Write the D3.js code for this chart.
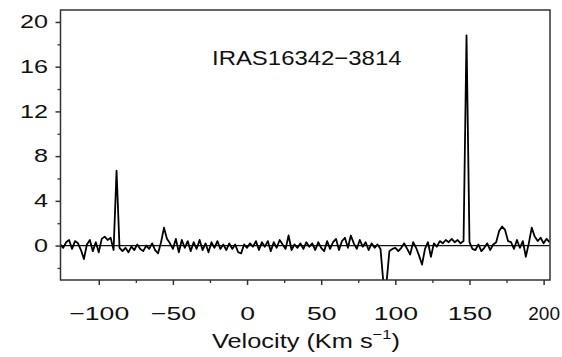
<!DOCTYPE html>
<html>
<head>
<meta charset="utf-8">
<script src="https://cdn.jsdelivr.net/npm/d3@7"></script>
<style>
  html, body { margin: 0; padding: 0; background: #fff; }
  svg { display: block; }
</style>
</head>
<body>
<svg id="chart" width="562" height="357"></svg>
<script>
// LSR velocity of each channel (km/s)
const velocity = [
  -126,-124,-122,-120,-118,-116,-114,-112,-110,-108,
  -106,-104,-102,-100, -98, -96, -94, -92, -90, -88,
   -86, -84, -82, -80, -78, -76, -74, -72, -70, -68,
   -66, -64, -62, -60, -58, -56, -54, -52, -50, -48,
   -46, -44, -42, -40, -38, -36, -34, -32, -30, -28,
   -26, -24, -22, -20, -18, -16, -14, -12, -10,  -8,
    -6,  -4,  -2,   0,   2,   4,   6,   8,  10,  12,
    14,  16,  18,  20,  22,  24,  26,  28,  30,  32,
    34,  36,  38,  40,  42,  44,  46,  48,  50,  52,
    54,  56,  58,  60,  62,  64,  66,  68,  70,  72,
    74,  76,  78,  80,  82,  84,  86,  88,  90,  92,
    94,  96,  98, 100, 102, 104, 106, 108, 110, 112,
   114, 116, 118, 120, 122, 124, 126, 128, 130, 132,
   134, 136, 138, 140, 142, 144, 146, 148, 150, 152,
   154, 156, 158, 160, 162, 164, 166, 168, 170, 172,
   174, 176, 178, 180, 182, 184, 186, 188, 190, 192,
   194, 196, 198, 200, 202, 204
];

// Flux density per channel (Jy)
const intensity = [
   0.1,-0.2, 0.3, 0.5,-0.3, 0.4, 0.2,-0.4,-1.2, 0.1,
   0.5,-0.5, 0.3,-0.6, 0.6, 0.8, 0.5, 0.7,-0.4, 6.7,
  -0.2,-0.5,-0.2,-0.6,-0.1,-0.4, 0.1,-0.3,-0.5, 0.0,
  -0.3, 0.2,-0.4,-0.7, 0.3, 1.6, 0.6, 0.2,-0.3, 0.6,
  -0.6, 0.5,-0.2, 0.4,-0.5, 0.3,-0.3, 0.5,-0.4, 0.2,
  -0.6, 0.3,-0.2, 0.4,-0.3, 0.1,-0.4, 0.2,-0.3, 0.1,
  -0.6,-0.7, 0.1,-0.2, 0.2,-0.1, 0.4,-0.4, 0.3,-0.1,
   0.4,-0.5, 0.3,-0.2, 0.5, 0.1,-0.3, 0.9,-0.4, 0.1,
  -0.2, 0.2,-0.3, 0.3,-0.1, 0.2,-0.4, 0.3,-0.2,-0.5,
   0.4,-0.3, 0.3, 0.6,-0.4, 0.4, 0.7,-0.2, 0.9, 0.2,
  -0.3, 0.5,-0.1, 0.3,-0.4, 0.2,-0.2, 0.1,-0.3,-3.4,
  -3.4,-0.5,-0.3,-0.2,-0.5,-0.2, 0.2,-0.3,-0.8, 0.3,
  -0.2,-0.9,-1.7,-0.3, 0.3,-1.0, 0.2,-0.1, 0.4, 0.2,
   0.5, 0.3, 0.6, 0.3, 0.5, 0.2, 0.4,18.8, 0.3,-0.3,
  -0.4, 0.1,-0.5,-0.2, 0.2,-0.4, 0.1, 0.3, 1.3, 1.7,
   1.4, 0.4, 0.3,-0.3, 0.5,-0.2, 0.4,-1.0, 0.2, 1.6,
   0.8, 0.4, 0.7, 0.2, 0.6, 0.3
];

const xTickValues = [-100, -50, 0, 50, 100, 150, 200];
const xMinorTicks = [-75, -25, 25, 75, 125, 175];
const yTickValues = [0, 4, 8, 12, 16, 20];
const yMinorTicks = [-2, 2, 6, 10, 14, 18];
const sourceName = "IRAS16342\u22123814";

const plot = { left: 60.5, right: 550, top: 10, bottom: 280 };
const font = "'Liberation Sans', Arial, Helvetica, sans-serif";
const ink = "#111";
const labelStretch = 1.4;

const x = d3.scaleLinear().domain([-125.8, 204.3]).range([plot.left, plot.right]);
const y = d3.scaleLinear().domain([-3.08, 21.07]).range([plot.bottom, plot.top]);

const svg = d3.select("#chart");
svg.append("defs").append("clipPath").attr("id", "plotClip")
  .append("rect")
  .attr("x", plot.left).attr("y", plot.top)
  .attr("width", plot.right - plot.left).attr("height", plot.bottom - plot.top);

// zero baseline
svg.append("line")
  .attr("x1", plot.left).attr("x2", plot.right)
  .attr("y1", y(0)).attr("y2", y(0))
  .attr("stroke", ink).attr("stroke-width", 1.2);

// spectrum
const line = d3.line()
  .x((d, i) => x(velocity[i]))
  .y(d => y(d));
svg.append("path")
  .datum(intensity)
  .attr("clip-path", "url(#plotClip)")
  .attr("d", line)
  .attr("fill", "none")
  .attr("stroke", "#000")
  .attr("stroke-width", 1.8)
  .attr("stroke-linejoin", "round");

// frame
svg.append("rect")
  .attr("x", plot.left).attr("y", plot.top)
  .attr("width", plot.right - plot.left).attr("height", plot.bottom - plot.top)
  .attr("fill", "none").attr("stroke", "#333").attr("stroke-width", 1.5);

// y axis
const gy = svg.append("g")
  .attr("transform", `translate(${plot.left},0)`)
  .call(d3.axisLeft(y).tickValues(yTickValues).tickSize(5).tickFormat(d3.format("d")));
gy.select(".domain").remove();
gy.selectAll(".tick line").attr("stroke", "#333").attr("stroke-width", 1.5);
gy.selectAll(".tick text")
  .attr("font-family", font).attr("font-size", 18).attr("fill", ink)
  .attr("x", -12.5 / labelStretch)
  .attr("transform", `scale(${labelStretch},1)`);

const gyMinor = svg.append("g")
  .attr("transform", `translate(${plot.left},0)`)
  .call(d3.axisLeft(y).tickValues(yMinorTicks).tickSize(3).tickFormat(""));
gyMinor.select(".domain").remove();
gyMinor.selectAll(".tick line").attr("stroke", "#333").attr("stroke-width", 1.3);

// x axis (the last label sits at the page edge, so it keeps its natural width)
const gx = svg.append("g")
  .attr("transform", `translate(0,${plot.bottom})`)
  .call(d3.axisBottom(x).tickValues(xTickValues).tickSize(5).tickFormat(d3.format("d")));
gx.select(".domain").remove();
gx.selectAll(".tick line").attr("stroke", "#333").attr("stroke-width", 1.5);
gx.selectAll(".tick text")
  .attr("font-family", font).attr("font-size", 19).attr("fill", ink)
  .attr("y", 27).attr("x", 0)
  .attr("transform", d => `scale(${d === 200 ? 1 : labelStretch},1)`);

const gxMinor = svg.append("g")
  .attr("transform", `translate(0,${plot.bottom})`)
  .call(d3.axisBottom(x).tickValues(xMinorTicks).tickSize(3).tickFormat(""));
gxMinor.select(".domain").remove();
gxMinor.selectAll(".tick line").attr("stroke", "#333").attr("stroke-width", 1.3);

// stretch a text group horizontally to a given width
function fitWidth(g, text, width) {
  const w = text.node().getBBox().width;
  g.attr("transform", g.attr("transform") + ` scale(${width / w},1)`);
}

// source label
const gTitle = svg.append("g").attr("transform", "translate(212,65)");
const title = gTitle.append("text")
  .attr("font-family", font).attr("font-size", 21).attr("fill", ink)
  .text(sourceName);
fitWidth(gTitle, title, 190);

// x axis title
const gXLabel = svg.append("g").attr("transform", "translate(212,348)");
const xLabel = gXLabel.append("text")
  .attr("font-family", font).attr("font-size", 20).attr("fill", ink);
xLabel.append("tspan").text("Velocity (Km s");
xLabel.append("tspan").attr("font-size", 13).attr("dy", -9).text("\u22121");
xLabel.append("tspan").attr("dy", 9).text(")");
fitWidth(gXLabel, xLabel, 188);
</script>
</body>
</html>
